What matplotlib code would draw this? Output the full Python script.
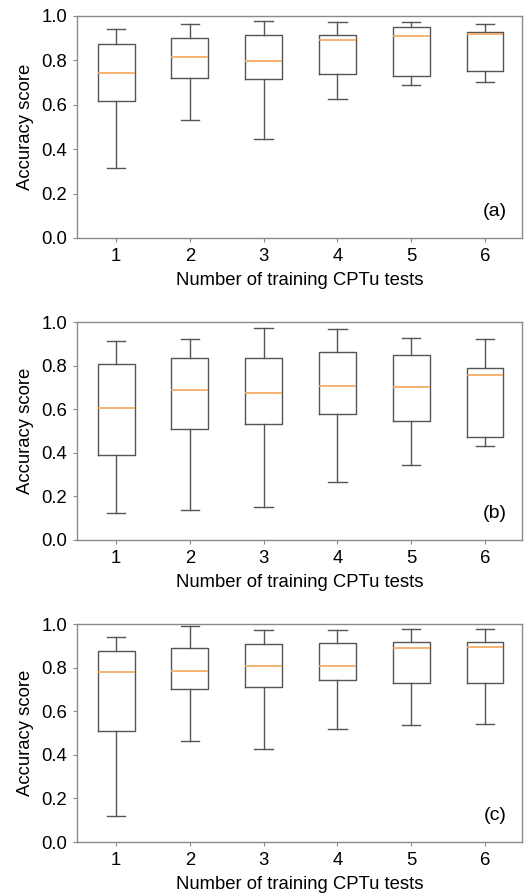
import matplotlib.pyplot as plt

plt.rcParams.update({
	"font.family": ["Liberation Sans", "DejaVu Sans"],
	"font.size": 13,
})

# box statistics: whisker low, Q1, median, Q3, whisker high
positions = [1, 2, 3, 4, 5, 6]
tick_labels = ["1", "2", "3", "4", "5", "6"]

a_low = [0.315, 0.532, 0.445, 0.628, 0.687, 0.703]
a_q1 = [0.616, 0.720, 0.714, 0.738, 0.730, 0.751]
a_med = [0.744, 0.813, 0.798, 0.891, 0.910, 0.918]
a_q3 = [0.873, 0.901, 0.915, 0.915, 0.949, 0.930]
a_high = [0.943, 0.966, 0.979, 0.973, 0.973, 0.963]

b_low = [0.125, 0.138, 0.153, 0.265, 0.343, 0.431]
b_q1 = [0.388, 0.509, 0.531, 0.578, 0.544, 0.474]
b_med = [0.606, 0.690, 0.673, 0.708, 0.703, 0.755]
b_q3 = [0.807, 0.836, 0.835, 0.864, 0.849, 0.787]
b_high = [0.911, 0.920, 0.971, 0.966, 0.927, 0.924]

c_low = [0.118, 0.465, 0.425, 0.520, 0.537, 0.541]
c_q1 = [0.509, 0.702, 0.709, 0.742, 0.728, 0.728]
c_med = [0.780, 0.786, 0.807, 0.806, 0.890, 0.894]
c_q3 = [0.875, 0.890, 0.908, 0.911, 0.917, 0.919]
c_high = [0.942, 0.991, 0.972, 0.972, 0.979, 0.976]

panels = [
	("(a)", a_low, a_q1, a_med, a_q3, a_high),
	("(b)", b_low, b_q1, b_med, b_q3, b_high),
	("(c)", c_low, c_q1, c_med, c_q3, c_high),
]

fig = plt.figure(figsize=(5.24, 8.93), dpi=100)
axes_rects = [
	[0.147, 0.7335, 0.849, 0.2486],
	[0.147, 0.3953, 0.849, 0.2441],
	[0.147, 0.0571, 0.849, 0.2441],
]

box_color = "#555555"
spine_color = "#8a8a8a"
median_color = "#f5a55a"

for rect, (tag, low, q1, med, q3, high) in zip(axes_rects, panels):
	ax = fig.add_axes(rect)
	stats = []
	for i in range(len(positions)):
		stats.append(dict(whislo=low[i], q1=q1[i], med=med[i], q3=q3[i], whishi=high[i], fliers=[]))
	ax.bxp(stats, positions=positions, widths=0.5, showfliers=False,
		boxprops=dict(color=box_color, linewidth=1.0),
		whiskerprops=dict(color=box_color, linewidth=1.0),
		capprops=dict(color=box_color, linewidth=1.0),
		medianprops=dict(color=median_color, linewidth=1.2))
	ax.set_xlim(0.47, 6.5)
	ax.set_ylim(0.0, 1.0)
	ax.set_yticks([0.0, 0.2, 0.4, 0.6, 0.8, 1.0])
	ax.set_yticklabels(["0.0", "0.2", "0.4", "0.6", "0.8", "1.0"])
	ax.set_xticks(positions)
	ax.set_xticklabels(tick_labels)
	ax.tick_params(which="major", length=3, width=0.8, color=spine_color, direction="out", pad=4, labelsize=13.3)
	for s in ["left", "bottom", "top", "right"]:
		ax.spines[s].set_color(spine_color)
		ax.spines[s].set_linewidth(1.0)
	ax.set_xlabel("Number of training CPTu tests", fontsize=13.3, labelpad=5)
	ax.set_ylabel("Accuracy score", fontsize=13.3, labelpad=5)
	ax.text(0.94, 0.12, tag, transform=ax.transAxes, ha="center", va="center", fontsize=14)

plt.savefig("out.png", dpi=100)
